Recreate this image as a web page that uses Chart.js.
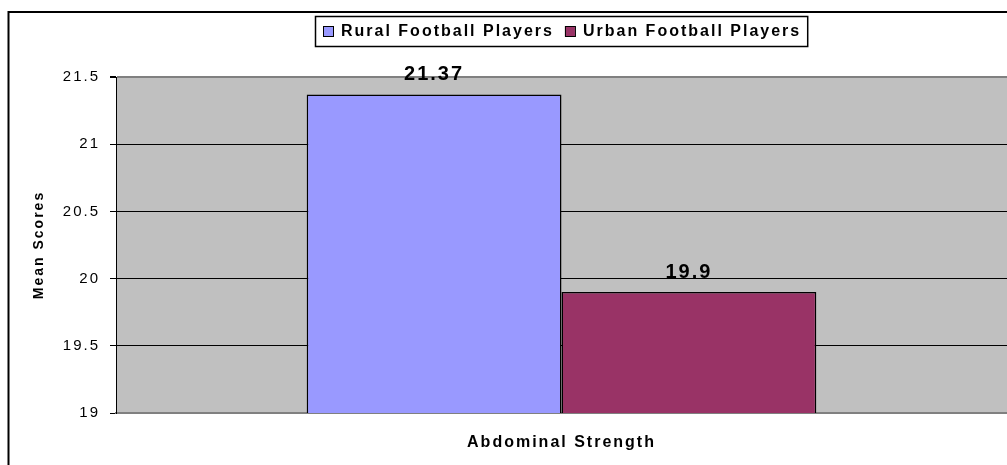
<!DOCTYPE html>
<html>
<head>
<meta charset="utf-8">
<title>Abdominal Strength</title>
<script src="https://cdn.jsdelivr.net/npm/chart.js@4"></script>
<style>
body { margin: 0; background: #fff; }
canvas { display: block; }
</style>
</head>
<body>
<canvas id="scores" width="1007" height="465"></canvas>
<script>
var categories = ["Abdominal Strength"];
var seriesNames = ["Rural Football Players", "Urban Football Players"];
var ruralScores = [21.37];
var urbanScores = [19.9];
var seriesColors = ["#9999FF", "#993366"];
var yMin = 19, yMax = 21.5, yStep = 0.5;

Chart.defaults.font.family = 'Arial, "Liberation Sans", sans-serif';
Chart.defaults.color = '#000';

// plot background, value labels, legend box and frame
var sheet = {
  id: 'sheet',
  beforeDraw: function (chart) {
    var ctx = chart.ctx, a = chart.chartArea;
    ctx.letterSpacing = '2px';
    ctx.save();
    ctx.fillStyle = '#fff';
    ctx.fillRect(0, 0, chart.width, chart.height);
    ctx.fillStyle = '#C0C0C0';
    ctx.fillRect(a.left, a.top, a.right - a.left, a.bottom - a.top);
    ctx.restore();
  },
  afterDatasetsDraw: function (chart) {
    var ctx = chart.ctx;
    ctx.save();
    ctx.font = 'bold 20px ' + Chart.defaults.font.family;
    ctx.fillStyle = '#000';
    ctx.textAlign = 'center';
    ctx.textBaseline = 'alphabetic';
    chart.data.datasets.forEach(function (ds, i) {
      chart.getDatasetMeta(i).data.forEach(function (bar, j) {
        ctx.fillText(String(ds.data[j]), bar.x, bar.y - 14);
      });
    });
    ctx.restore();
  },
  afterDraw: function (chart) {
    var ctx = chart.ctx, a = chart.chartArea;
    ctx.save();
    // legend
    ctx.font = 'bold 16px ' + Chart.defaults.font.family;
    var items = chart.data.datasets.map(function (ds) {
      return { label: ds.label, color: ds.backgroundColor, w: ctx.measureText(ds.label).width };
    });
    var sq = 10, total = 8 + 6;
    items.forEach(function (it, i) { total += sq + 8 + it.w + (i ? 11 : 0); });
    var left = Math.round((a.left + a.right) / 2 - total / 2), top = 16, h = 30, cy = top + h / 2;
    ctx.fillStyle = '#fff';
    ctx.fillRect(left, top, total, h);
    ctx.strokeStyle = '#000';
    ctx.lineWidth = 1.5;
    ctx.strokeRect(left + 0.5, top + 0.5, total, h);
    var x = left + 8;
    ctx.textBaseline = 'middle';
    ctx.textAlign = 'left';
    items.forEach(function (it, i) {
      if (i) x += 11;
      ctx.fillStyle = it.color;
      ctx.fillRect(x, cy - 5, sq, sq);
      ctx.lineWidth = 1;
      ctx.strokeRect(x + 0.5, cy - 4.5, sq, sq);
      x += sq + 8;
      ctx.fillStyle = '#000';
      ctx.fillText(it.label, x, cy + 1);
      x += it.w;
    });
    // outer frame
    ctx.lineWidth = 2;
    ctx.strokeRect(8.5, 12, chart.width + 20, chart.height + 20);
    ctx.restore();
  }
};

new Chart(document.getElementById('scores'), {
  type: 'bar',
  data: {
    labels: categories,
    datasets: [
      { label: seriesNames[0], data: ruralScores, backgroundColor: seriesColors[0] },
      { label: seriesNames[1], data: urbanScores, backgroundColor: seriesColors[1] }
    ]
  },
  options: {
    responsive: false,
    animation: false,
    devicePixelRatio: 1,
    layout: { padding: { top: 77, left: 0, right: 0, bottom: 0 } },
    datasets: {
      bar: {
        borderColor: '#000',
        borderWidth: 1.5,
        borderSkipped: false,
        barPercentage: 1,
        categoryPercentage: 0.572
      }
    },
    plugins: {
      legend: { display: false },
      tooltip: { enabled: false }
    },
    scales: {
      x: {
        grid: { display: false, drawTicks: false },
        border: { display: true, color: '#808080', width: 2 },
        ticks: { font: { weight: 'bold', size: 16 }, color: '#000', padding: 20 },
        afterFit: function (s) { s.height = 52; }
      },
      y: {
        min: yMin,
        max: yMax,
        ticks: {
          stepSize: yStep,
          font: { size: 15 },
          color: '#000',
          padding: 10,
          callback: function (v) { return String(Math.round(v * 10) / 10); }
        },
        grid: {
          color: function (c) {
            return c.tick && (c.tick.value === yMax || c.tick.value === yMin) ? '#808080' : '#000';
          },
          lineWidth: function (c) {
            return c.tick && c.tick.value === yMax ? 2 : 1;
          },
          tickColor: '#000',
          tickLength: 6
        },
        border: { color: '#000', width: 1 },
        title: {
          display: true,
          text: 'Mean Scores',
          font: { weight: 'bold', size: 14 },
          color: '#000',
          padding: { top: 31, bottom: 0 }
        },
        afterFit: function (s) { s.width = 116; }
      }
    }
  },
  plugins: [sheet]
});
</script>
</body>
</html>
